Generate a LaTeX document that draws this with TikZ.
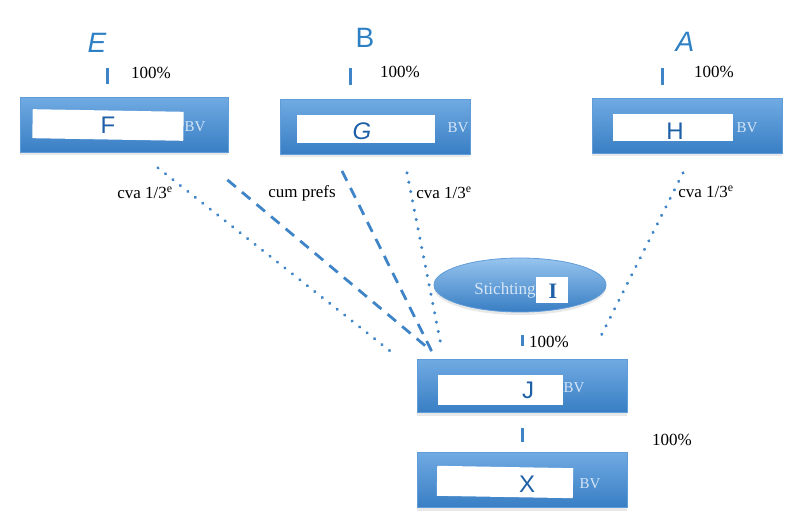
\documentclass[tikz,border=0pt]{standalone}
\usepackage{fontspec}
\setmainfont{Liberation Serif}
\setsansfont{Liberation Sans}
\usetikzlibrary{shadows,calc,shapes.geometric}
\definecolor{boxtop}{RGB}{112,170,226}
\definecolor{boxbot}{RGB}{56,126,196}
\definecolor{boxline}{RGB}{96,156,216}
\definecolor{pen}{RGB}{46,128,196}
\definecolor{inkblue}{RGB}{30,96,168}
\definecolor{linkblue}{RGB}{62,132,198}
\definecolor{bvtext}{RGB}{214,230,246}
\definecolor{ovaltop}{RGB}{150,196,238}

\begin{document}
\begin{tikzpicture}[
    x=1pt, y=-1pt,
    bvbox/.style={
        rectangle,
        draw=boxline,
        line width=0.8pt,
        top color=boxtop,
        bottom color=boxbot,
        drop shadow={opacity=0.18, shadow xshift=0pt, shadow yshift=-3pt},
        minimum width=190pt,
        minimum height=55pt
    },
    patch/.style={fill=white, inner sep=0pt},
    hand/.style={font=\sffamily\fontsize{28}{30}\selectfont, text=pen, inner sep=0pt},
    letter/.style={font=\sffamily\fontsize{24}{26}\selectfont, text=inkblue, inner sep=0pt},
    perc/.style={font=\fontsize{17}{20}\selectfont, inner sep=0pt},
    bv/.style={font=\fontsize{15}{18}\selectfont, text=bvtext, inner sep=0pt},
    tick/.style={draw=linkblue, line width=3pt},
    dotline/.style={draw=linkblue, line width=3.4pt, line cap=round, dash pattern=on 0.01pt off 9.5pt},
    dashline/.style={draw=linkblue, line width=2.8pt, dash pattern=on 11pt off 8pt}
]
\useasboundingbox (0,0) rectangle (800,521);

% Owners
\node[hand] (E) at (97,43) {\itshape E};
\node[hand] (B) at (365,38) {B};
\node[hand] (A) at (685,42) {\itshape A};

% Companies
\node[bvbox, minimum width=208pt] (F) at (124,125) {};
\node[bvbox] (G) at (375,127) {};
\node[bvbox] (H) at (687,126) {};

\node[ellipse,
      draw=boxline,
      line width=0.8pt,
      top color=ovaltop,
      bottom color=boxbot,
      drop shadow={opacity=0.18, shadow xshift=0pt, shadow yshift=-3pt},
      minimum width=172pt,
      minimum height=54pt] (stichting) at (520,285) {};

\node[bvbox, minimum width=210pt, minimum height=53pt] (J) at (522,386) {};
\node[bvbox, minimum width=210pt] (X) at (522,480) {};

% Patches
\node[patch, minimum width=151pt, minimum height=29pt, rotate=-1] (Fp) at (108,125) {};
\node[patch, minimum width=138pt, minimum height=28pt] (Gp) at (366,129) {};
\node[patch, minimum width=120pt, minimum height=27pt] (Hp) at (673,128) {};
\node[patch, minimum width=125pt, minimum height=30pt] (Jp) at (500,390) {};
\node[patch, minimum width=136pt, minimum height=30pt, rotate=-1] (Xp) at (505,482) {};
\node[patch, minimum width=32pt, minimum height=25pt] (Ip) at (552,290) {};

% Names
\node[letter] (Fl) at (108,125) {F};
\node[letter] (Gl) at (362,131) {\itshape G};
\node[letter] (Hl) at (675,131) {H};
\node[letter] (Jl) at (528,390) {J};
\node[letter] (Xl) at (527,484) {X};
\node[letter, font=\rmfamily\bfseries\fontsize{22}{24}\selectfont] (Il) at (553,291) {I};

\node[bv] (Fbv) at (195,127) {BV};
\node[bv] (Gbv) at (458,128) {BV};
\node[bv] (Hbv) at (747,128) {BV};
\node[bv] (Jbv) at (574,388) {BV};
\node[bv] (Xbv) at (590,484) {BV};
\node[bv, font=\fontsize{17}{20}\selectfont] (stext) at (505,290) {Stichting};

% Percentages
\node[perc] (pE) at (151,73) {100\%};
\node[perc] (pB) at (400,72) {100\%};
\node[perc] (pA) at (714,72) {100\%};
\node[perc] (pJ) at (549,342) {100\%};
\node[perc] (pX) at (672,440) {100\%};

% Labels
\node[perc] (cvaF) at (145,193) {cva 1/3\textsuperscript{e}};
\node[perc] (prefs) at (302,193) {cum prefs};
\node[perc] (cvaG) at (444,193) {cva 1/3\textsuperscript{e}};
\node[perc] (cvaH) at (706,192) {cva 1/3\textsuperscript{e}};

% Ticks
\draw[tick, shorten <=25pt, shorten >=13pt] ($(E)+(10,0)$) -- ($(E |- F.north)+(10,0)$);
\draw[tick, shorten <=30pt, shorten >=14pt] ($(B)+(-15,0)$) -- ($(B |- G.north)+(-15,0)$);
\draw[tick, shorten <=26pt, shorten >=13pt] ($(A)+(-23,0)$) -- ($(A |- H.north)+(-23,0)$);
\draw[tick, shorten <=23pt, shorten >=13pt] (stichting.south -| J.north) -- (J.north);
\draw[tick, shorten <=15pt, shorten >=10pt] (J.south) -- (X.north);

% Connections
\draw[dotline] ([shift={(34,15)}]F.south) -- ([shift={(-20,-3)}]J.north west);
\draw[dashline] ([shift={(-1,27)}]F.south east) -- ([shift={(15,-8)}]J.north west);
\draw[dashline] ([shift={(-33,16)}]G.south) -- ([shift={(15,-8)}]J.north west);
\draw[dotline] ([shift={(32,18)}]G.south) -- ([shift={(24,-16)}]J.north west);
\draw[dotline] ([shift={(-4,19)}]H.south) -- ([shift={(-27,-22)}]J.north east);

\end{tikzpicture}
\end{document}
